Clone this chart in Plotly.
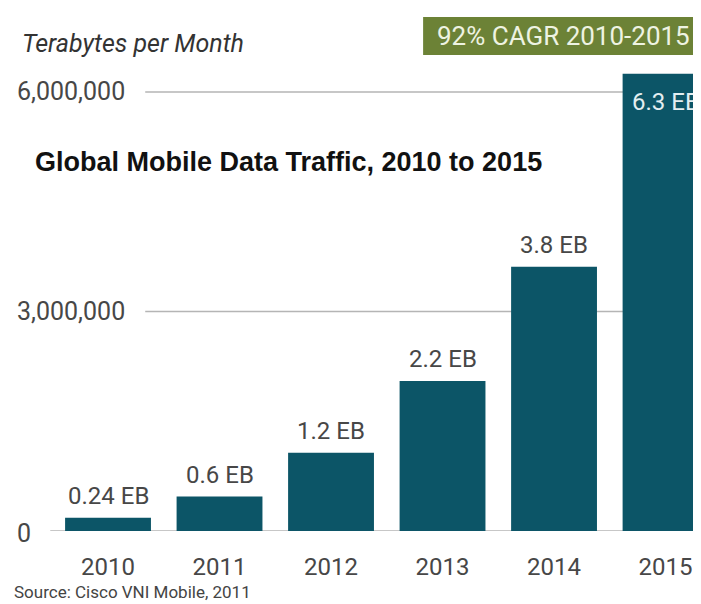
"""
Global mobile data traffic bar chart (Cisco VNI style).
"""
import plotly.graph_objects as go

years = ['2010', '2011', '2012', '2013', '2014', '2015']
tb_per_month = [180000, 470000, 1070000, 2050000, 3610000, 6250000]
bar_labels = ['0.24 EB', '0.6 EB', '1.2 EB', '2.2 EB', '3.8 EB', '6.3 EB']
y_ticks = [0, 3000000, 6000000]
y_tick_text = ['0', '3,000,000', '6,000,000']

BAR = '#0c5567'
TXT = '#474747'
FONT = 'Roboto, Liberation Sans, Arial, sans-serif'

xs = list(range(len(years)))

fig = go.Figure()
fig.add_trace(go.Bar(
    x=xs, y=tb_per_month, width=0.77,
    marker=dict(color=BAR, line=dict(width=0)),
    hovertemplate='%{y:,}<extra></extra>',
))

# value labels: above the bar, except the last which sits inside the top
for i, (v, lab) in enumerate(zip(tb_per_month, bar_labels)):
    last = i == len(years) - 1
    fig.add_annotation(
        x=i, y=v, text=lab, showarrow=False,
        yanchor='top' if last else 'bottom',
        yshift=-12 if last else 6,
        font=dict(size=24, color='#e3eef1' if last else TXT, family=FONT),
    )

# y tick labels sit inside the plot, left aligned, grid lines start after them
for t, lab in zip(y_ticks, y_tick_text):
    fig.add_annotation(xref='paper', yref='y', x=0.0101, y=t, text=lab,
                       xanchor='left', yanchor='middle', yshift=-2 if t == 0 else 0,
                       showarrow=False, font=dict(size=25, color=TXT, family=FONT))
for t in y_ticks[1:]:
    fig.add_shape(type='line', xref='paper', yref='y', x0=0.198, x1=1,
                  y0=t, y1=t, line=dict(color='#b5b5b5', width=1.5), layer='below')
fig.add_shape(type='line', xref='paper', yref='y', x0=0.061, x1=1,
              y0=0, y1=0, line=dict(color='#b5b5b5', width=1.5), layer='below')

# CAGR badge
fig.add_shape(type='rect', xref='paper', yref='paper', x0=0.599, x1=1,
              y0=1.0106, y1=1.0913, fillcolor='#6c8236', line=dict(width=0))
fig.add_annotation(xref='paper', yref='paper', x=0.802, y=1.051,
                   xanchor='center', yanchor='middle',
                   text='92% CAGR 2010-2015', showarrow=False,
                   font=dict(size=26, color='#eef3e2', family=FONT))

fig.add_annotation(xref='paper', yref='paper', x=0.0173, y=1.036,
                   xanchor='left', yanchor='middle',
                   text='<i>Terabytes per Month</i>', showarrow=False,
                   font=dict(size=25, color='#333333', family=FONT))
fig.add_annotation(xref='paper', yref='paper', x=0.036, y=0.783,
                   xanchor='left', yanchor='middle',
                   text='<b>Global Mobile Data Traffic, 2010 to 2015</b>', showarrow=False,
                   font=dict(size=27, color='#111111', family='Liberation Sans, Arial, sans-serif'))
fig.add_annotation(xref='paper', yref='paper', x=0.0058, y=-0.130,
                   xanchor='left', yanchor='middle',
                   text='Source: Cisco VNI Mobile, 2011', showarrow=False,
                   font=dict(size=17, color='#444444', family=FONT))

# page body has an 8px margin, so the figure is 8px smaller than the window
fig.update_layout(
    width=693, height=596,
    template='plotly_white',
    paper_bgcolor='white', plot_bgcolor='white',
    margin=dict(l=0, r=0, t=52, b=73),
    showlegend=False,
    font=dict(family=FONT, color=TXT),
    xaxis=dict(
        range=[-0.897, 5.318], tickvals=xs, ticktext=years,
        showgrid=False, zeroline=False, showline=False,
        ticks='', ticklabelstandoff=19, tickfont=dict(size=24, color=TXT),
    ),
    yaxis=dict(
        range=[0, 6437000], tickvals=y_ticks,
        showgrid=False, zeroline=False, showline=False,
        ticks='', showticklabels=False,
    ),
)

fig.write_html('out.html')
